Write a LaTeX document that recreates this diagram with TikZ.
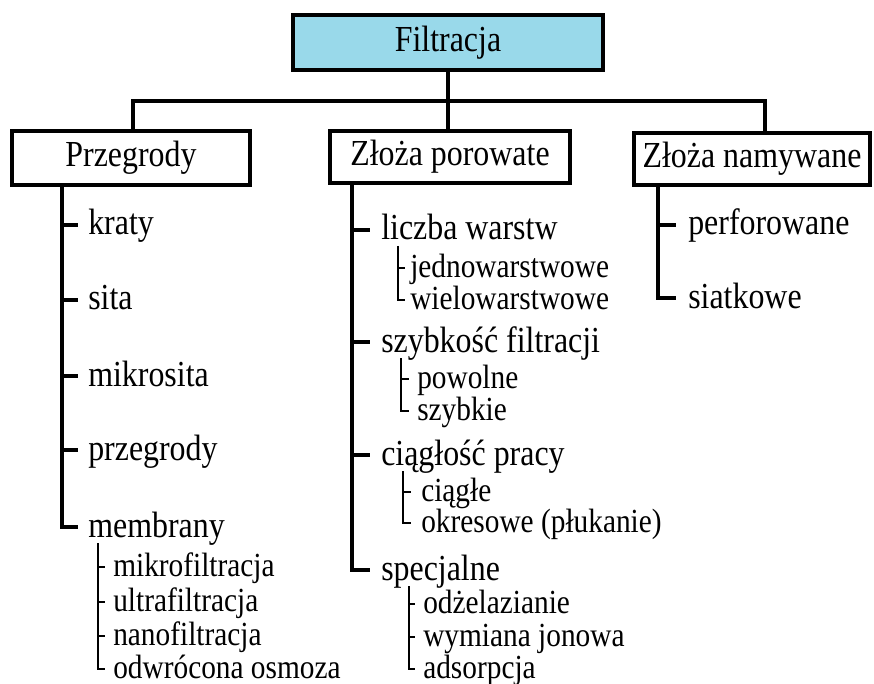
\documentclass[tikz,border=0pt]{standalone}
\usepackage{fontspec}
\setmainfont{Liberation Serif}[FakeStretch=0.87]
\usetikzlibrary{calc}
\definecolor{headfill}{RGB}{153,217,234}
\begin{document}
\begin{tikzpicture}[x=0.75pt,y=-0.75pt,
  box/.style={draw,line width=2.6pt,inner sep=0pt,font=\fontsize{27.5}{31}\selectfont},
  item/.style={anchor=west,inner sep=0pt,font=\fontsize{27.5}{31}\selectfont,
    text height=19.3pt,text depth=4.3pt},
  subitem/.style={anchor=west,inner sep=0pt,font=\fontsize{25.3}{29}\selectfont,
    text height=17.8pt,text depth=4.3pt},
  trunk/.style={line width=3pt},
  twig/.style={line width=1.8pt}]
\useasboundingbox (0,0) rectangle (874,684);

% --- header and category boxes ---
\node[box,fill=headfill,minimum width=232.5pt,minimum height=41.25pt] (fil) at (448,42.5) {Filtracja};
\node[box,minimum width=178.5pt,minimum height=40.5pt] (prz) at (131,158) {Przegrody};
\node[box,minimum width=180pt,minimum height=39pt] (por) at (450,157) {Złoża porowate};
\node[box,minimum width=177pt,minimum height=39pt] (nam) at (752,159) {Złoża namywane};

% bus connecting the header with the three categories
\coordinate (bus) at (448,101);
\draw[trunk] (fil.south) -- (bus);
\draw[trunk] ($(prz.north)+(2,0)$) |- (bus) -| ($(nam.north)+(13,0)$);
\draw[trunk] (bus) -- (bus |- por.north);

% --- Przegrody ---
\coordinate (lx) at (62,0);
\node[item] (kraty) at (88,225) {kraty};
\node[item] (sita) at (88,300) {sita};
\node[item] (mikrosita) at (88,376) {mikrosita};
\node[item] (przegrody) at (88,450) {przegrody};
\node[item] (membrany) at (88,527) {membrany};
\draw[trunk] (prz.south -| lx) |- ($(membrany.west)+(-10,0)$);
\foreach \n in {kraty,sita,mikrosita,przegrody}
  \draw[trunk] (lx |- \n.west) -- ($(\n.west)+(-10,0)$);

\coordinate (mx) at (98,0);
\node[subitem] (mf) at (113,567) {mikrofiltracja};
\node[subitem] (uf) at (113,602) {ultrafiltracja};
\node[subitem] (nf) at (113,636) {nanofiltracja};
\node[subitem] (ro) at (113,669) {odwrócona osmoza};
\draw[twig] (membrany.south -| mx) |- ($(ro.west)+(-8,0)$);
\foreach \n in {mf,uf,nf}
  \draw[twig] (mx |- \n.west) -- ($(\n.west)+(-8,0)$);

% --- Złoża porowate ---
\coordinate (px) at (352,0);
\node[item] (lw) at (381,230) {liczba warstw};
\node[item] (sf) at (381,342) {szybkość filtracji};
\node[item] (cp) at (381,455) {ciągłość pracy};
\node[item] (sp) at (381,570) {specjalne};
\draw[trunk] (por.south -| px) |- ($(sp.west)+(-11,0)$);
\foreach \n in {lw,sf,cp}
  \draw[trunk] (px |- \n.west) -- ($(\n.west)+(-11,0)$);

\coordinate (lwx) at (398,0);
\node[subitem] (jw) at (410,268) {jednowarstwowe};
\node[subitem] (ww) at (410,300) {wielowarstwowe};
\draw[twig] (lw.south -| lwx) |- ($(ww.west)+(-5,0)$);
\draw[twig] (lwx |- jw.west) -- ($(jw.west)+(-5,0)$);

\coordinate (sfx) at (401,0);
\node[subitem] (pw) at (417,379) {powolne};
\node[subitem] (sz) at (417,411) {szybkie};
\draw[twig] (sf.south -| sfx) |- ($(sz.west)+(-8,0)$);
\draw[twig] (sfx |- pw.west) -- ($(pw.west)+(-8,0)$);

\coordinate (cpx) at (403,0);
\node[subitem] (cg) at (421,492) {ciągłe};
\node[subitem] (ok) at (421,523) {okresowe (płukanie)};
\draw[twig] (cp.south -| cpx) |- ($(ok.west)+(-10,0)$);
\draw[twig] (cpx |- cg.west) -- ($(cg.west)+(-10,0)$);

\coordinate (spx) at (409,0);
\node[subitem] (od) at (423,604) {odżelazianie};
\node[subitem] (wj) at (423,637) {wymiana jonowa};
\node[subitem] (ad) at (423,669) {adsorpcja};
\draw[twig] (sp.south -| spx) |- ($(ad.west)+(-8,0)$);
\foreach \n in {od,wj}
  \draw[twig] (spx |- \n.west) -- ($(\n.west)+(-8,0)$);

% --- Złoża namywane ---
\coordinate (nx) at (658,0);
\node[item] (pf) at (688,225) {perforowane};
\node[item] (sk) at (688,298) {siatkowe};
\draw[trunk] (nam.south -| nx) |- ($(sk.west)+(-12,0)$);
\draw[trunk] (nx |- pf.west) -- ($(pf.west)+(-12,0)$);
\end{tikzpicture}
\end{document}
